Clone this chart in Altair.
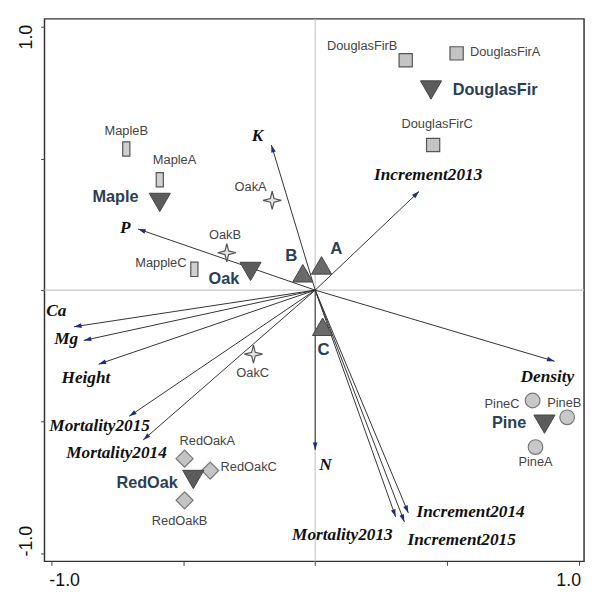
import altair as alt
import pandas as pd
import numpy as np

# ---------------- data ----------------
# species centroids (down triangles)
species = ["DouglasFir", "Maple", "Oak", "RedOak", "Pine"]
species_x = [0.439, -0.589, -0.245, -0.462, 0.869]
species_y = [0.760, 0.333, 0.071, -0.719, -0.509]
species_lx = [0.682, -0.757, -0.346, -0.637, 0.735]
species_ly = [0.760, 0.352, 0.041, -0.734, -0.506]

# plot centroids (up triangles)
plots = ["A", "B", "C"]
plots_x = [0.024, -0.047, 0.028]
plots_y = [0.094, 0.064, -0.139]
plots_lx = [0.080, -0.091, 0.032]
plots_ly = [0.157, 0.131, -0.228]

# samples
samples = ["DouglasFirA", "DouglasFirB", "DouglasFirC",
           "MapleA", "MapleB", "MappleC",
           "OakA", "OakB", "OakC",
           "RedOakA", "RedOakB", "RedOakC",
           "PineA", "PineB", "PineC"]
sample_group = ["DouglasFir"] * 3 + ["Maple"] * 3 + ["Oak"] * 3 + ["RedOak"] * 3 + ["Pine"] * 3
sample_x = [0.536, 0.343, 0.447,
            -0.589, -0.716, -0.458,
            -0.163, -0.335, -0.234,
            -0.495, -0.495, -0.398,
            0.835, 0.955, 0.824]
sample_y = [0.899, 0.873, 0.551,
            0.419, 0.536, 0.079,
            0.341, 0.142, -0.243,
            -0.640, -0.798, -0.685,
            -0.596, -0.483, -0.419]
sample_lx = [0.720, 0.178, 0.462,
             -0.533, -0.716, -0.585,
             -0.245, -0.342, -0.237,
             -0.409, -0.514, -0.252,
             0.835, 0.944, 0.708]
sample_ly = [0.903, 0.925, 0.629,
             0.494, 0.603, 0.101,
             0.393, 0.210, -0.315,
             -0.573, -0.876, -0.670,
             -0.652, -0.427, -0.431]

# environmental vectors
env = ["K", "P", "Increment2013", "Ca", "Mg", "Height", "Mortality2015",
       "Mortality2014", "Density", "N", "Mortality2013", "Increment2014",
       "Increment2015"]
env_x = [-0.166, -0.671, 0.394, -0.914, -0.877, -0.821, -0.705,
         -0.652, 0.907, 0.0, 0.305, 0.353, 0.338]
env_y = [0.551, 0.232, 0.375, -0.139, -0.191, -0.281, -0.479,
         -0.569, -0.270, -0.607, -0.861, -0.846, -0.880]
env_lx = [-0.219, -0.720, 0.428, -0.981, -0.944, -0.869, -0.817,
          -0.753, 0.880, 0.039, 0.103, 0.589, 0.555]
env_ly = [0.584, 0.236, 0.438, -0.079, -0.187, -0.333, -0.517,
          -0.618, -0.330, -0.663, -0.929, -0.843, -0.948]

tick_values = [-1.0, -0.5, 0.0, 0.5, 1.0]

# ---------------- tables ----------------
sp_df = pd.DataFrame({"name": species, "x": species_x, "y": species_y,
                      "lx": species_lx, "ly": species_ly})
pl_df = pd.DataFrame({"name": plots, "x": plots_x, "y": plots_y,
                      "lx": plots_lx, "ly": plots_ly})
sa_df = pd.DataFrame({"name": samples, "group": sample_group, "x": sample_x,
                      "y": sample_y, "lx": sample_lx, "ly": sample_ly})
env_df = pd.DataFrame({"name": env, "x": env_x, "y": env_y,
                       "lx": env_lx, "ly": env_ly})
env_df["x0"] = 0.0
env_df["y0"] = 0.0
env_df["angle"] = (np.degrees(np.arctan2(env_df["x"], env_df["y"])) + 360) % 360

xscale = alt.Scale(domain=[-1.026, 1.019], nice=False, zero=False)
yscale = alt.Scale(domain=[-1.03, 1.03], nice=False, zero=False)

label_expr_x = "datum.value == 1 ? '1.0' : (datum.value == -1 ? '-1.0' : '')"

xaxis = alt.Axis(values=tick_values, labelExpr=label_expr_x, title=None,
                 grid=False, domain=False, tickColor="#444", tickSize=4,
                 labelFontSize=18, labelFont="Liberation Sans", labelColor="#111",
                 labelPadding=6,
                 labelOffset={"condition": {"test": "datum.value > 0", "value": -11}, "value": 13})
yaxis = alt.Axis(values=tick_values, labelExpr=label_expr_x, title=None,
                 grid=False, domain=False, tickColor="#444", tickSize=4,
                 labelFontSize=18, labelFont="Liberation Sans", labelColor="#111",
                 labelAngle=270, labelAlign="center", labelBaseline="bottom",
                 labelPadding=5,
                 labelOffset={"condition": {"test": "datum.value > 0", "value": 10}, "value": -13})

X = lambda f="x": alt.X(f + ":Q", scale=xscale, axis=xaxis)
Y = lambda f="y": alt.Y(f + ":Q", scale=yscale, axis=yaxis)

# zero lines
vzero = alt.Chart(pd.DataFrame({"v": [0.0]})).mark_rule(color="#c8c8c8", strokeWidth=1.2).encode(
    x=alt.X("v:Q", scale=xscale, axis=xaxis))
hzero = alt.Chart(pd.DataFrame({"v": [0.0]})).mark_rule(color="#c8c8c8", strokeWidth=1.2).encode(
    y=alt.Y("v:Q", scale=yscale, axis=yaxis))

# arrows
arrow_lines = alt.Chart(env_df).mark_rule(color="#333333", strokeWidth=1).encode(
    x=X("x0"), y=Y("y0"), x2="x:Q", y2="y:Q")
arrow_heads = alt.Chart(env_df).mark_point(
    shape="M0,0L0.5,1.6L-0.5,1.6Z", filled=True, color="#1f2d7a", opacity=1, size=90
).encode(x=X(), y=Y(), angle=alt.Angle("angle:Q", scale=None))
env_labels = alt.Chart(env_df).mark_text(
    font="Liberation Serif", fontStyle="italic", fontWeight="bold", fontSize=17.5,
    color="#111111", baseline="middle", align="center"
).encode(x=X("lx"), y=Y("ly"), text="name:N")

# sample markers per group
group_style = {
    "DouglasFir": dict(shape="square", size=180, fill="#c4c4c4", stroke="#555555"),
    "Maple": dict(shape="M-0.5,-1L0.5,-1L0.5,1L-0.5,1Z", size=210, fill="#d0d0d0", stroke="#555555"),
    "Oak": dict(shape="M0,-1L0.2,-0.2L1,0L0.2,0.2L0,1L-0.2,0.2L-1,0L-0.2,-0.2Z", size=340,
                fill="#e6e6e6", stroke="#555555"),
    "RedOak": dict(shape="diamond", size=300, fill="#c4c4c4", stroke="#777777"),
    "Pine": dict(shape="circle", size=220, fill="#c8c8c8", stroke="#777777"),
}
sample_layers = []
for g, st in group_style.items():
    sample_layers.append(
        alt.Chart(sa_df[sa_df["group"] == g]).mark_point(
            shape=st["shape"], size=st["size"], filled=True, fill=st["fill"],
            stroke=st["stroke"], strokeWidth=1.2, opacity=1
        ).encode(x=X(), y=Y())
    )
sample_labels = alt.Chart(sa_df).mark_text(
    font="Liberation Sans", fontSize=13, color="#444444", baseline="middle", align="center"
).encode(x=X("lx"), y=Y("ly"), text="name:N")

# species centroids
sp_marks = alt.Chart(sp_df).mark_point(
    shape="triangle-down", size=460, filled=True, fill="#5c5c5c", stroke="#444444",
    strokeWidth=1, opacity=1
).encode(x=X(), y=Y())
sp_labels = alt.Chart(sp_df).mark_text(
    font="Liberation Sans", fontWeight="bold", fontSize=16.5, color="#2b4055",
    baseline="middle", align="center"
).encode(x=X("lx"), y=Y("ly"), text="name:N")

# plot centroids
pl_marks = alt.Chart(pl_df).mark_point(
    shape="triangle-up", size=420, filled=True, fill="#6a6a6a", stroke="#444444",
    strokeWidth=1, opacity=1
).encode(x=X(), y=Y())
pl_labels = alt.Chart(pl_df).mark_text(
    font="Liberation Sans", fontWeight="bold", fontSize=17, color="#2b4055",
    baseline="middle", align="center"
).encode(x=X("lx"), y=Y("ly"), text="name:N")

chart = alt.layer(
    vzero, hzero, arrow_lines, *sample_layers, sp_marks, pl_marks,
    arrow_heads, env_labels, sample_labels, sp_labels, pl_labels
).properties(
    width=547, height=550,
    autosize=alt.AutoSizeParams(type="none"),
    padding={"left": 37, "top": 7, "right": 3, "bottom": 26},
).configure_view(
    stroke="#333333", strokeWidth=1.5
)

chart.save("out.html", embed_options={"renderer": "svg", "actions": False})
